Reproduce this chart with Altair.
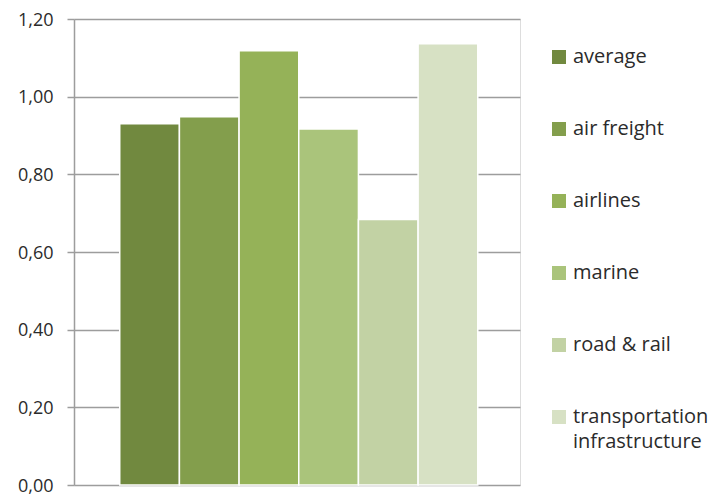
import altair as alt
import pandas as pd

categories = ["average", "air freight", "airlines", "marine", "road & rail",
              "transportation infrastructure"]
values = [0.93, 0.948, 1.118, 0.917, 0.684, 1.136]
colors = ["#71893F", "#839E4C", "#95B258", "#AAC47B", "#C2D2A4", "#D7E1C4"]
y_ticks = [0, 0.2, 0.4, 0.6, 0.8, 1.0, 1.2]

df = pd.DataFrame({"category": categories, "value": values})

FONT = "Open Sans"

chart = alt.Chart(df).mark_bar(stroke="white", strokeWidth=1.5).encode(
    x=alt.X("category:N", sort=categories, axis=None,
            scale=alt.Scale(paddingInner=0, paddingOuter=0.737, align=0.52)),
    y=alt.Y("value:Q",
            scale=alt.Scale(domain=[0, 1.2], nice=False),
            axis=alt.Axis(values=y_ticks, title=None,
                          labelExpr="replace(format(datum.value, '.2f'), '.', ',')",
                          labelFont=FONT, labelFontSize=18, labelColor="#2b2b2b",
                          labelBaseline="alphabetic", labelOffset=6,
                          labelPadding=14, tickSize=7, tickColor="#9d9d9d",
                          tickWidth=1.5, domainColor="#9d9d9d", domainWidth=1.5,
                          grid=True, gridColor="#9d9d9d", gridWidth=1.5)),
    color=alt.Color("category:N", sort=categories,
                    scale=alt.Scale(domain=categories, range=colors),
                    legend=alt.Legend(title=None, orient="none",
                                      legendX=475, legendY=28,
                                      symbolType="square", symbolSize=196,
                                      symbolStrokeWidth=0, labelFont=FONT,
                                      labelFontSize=20, labelColor="#2b2b2b",
                                      labelOffset=4, rowPadding=52,
                                      labelLimit=300,
                                      labelExpr="datum.label == 'transportation infrastructure' ? ['transportation', 'infrastructure'] : datum.label")),
).properties(
    width=446, height=466,
    autosize=alt.AutoSizeParams(type="none"),
    padding={"left": 66, "top": 11, "right": 198, "bottom": 12},
).configure_view(stroke=None).configure(
    style={"guide-label": {"lineHeight": 25}}
)

chart.save("out.html", embed_options={"renderer": "svg", "actions": False})
